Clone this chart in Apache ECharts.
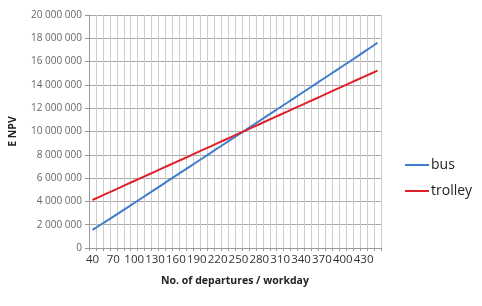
<!DOCTYPE html>
<html>
<head>
<meta charset="utf-8">
<script src="https://cdn.jsdelivr.net/npm/echarts@6/dist/echarts.min.js"></script>
<style>html,body{margin:0;padding:0;background:#fff;}#c{width:482px;height:306px;}</style>
</head>
<body>
<div id="c"></div>
<script>
var categories = ['40','50','60','70','80','90','100','110','120','130','140','150','160','170','180','190','200','210','220','230','240','250','260','270','280','290','300','310','320','330','340','350','360','370','380','390','400','410','420','430','440','450'];
var busValues = [1550000,1930000,2310000,2690000,3080000,3470000,3860000,4250000,4640000,5030000,5420000,5820000,6210000,6600000,6990000,7380000,7770000,8160000,8560000,8950000,9340000,9730000,10120000,10510000,10900000,11300000,11690000,12080000,12470000,12870000,13260000,13650000,14040000,14440000,14830000,15220000,15620000,16010000,16410000,16810000,17210000,17620000];
var trolleyValues = [4120000,4390000,4660000,4930000,5200000,5480000,5750000,6020000,6290000,6560000,6830000,7100000,7370000,7640000,7910000,8190000,8460000,8730000,9000000,9270000,9540000,9810000,10080000,10350000,10620000,10900000,11170000,11440000,11710000,11980000,12250000,12520000,12790000,13060000,13330000,13610000,13880000,14150000,14420000,14690000,14960000,15230000];
var yTicks = {min: 0, max: 20000000, interval: 2000000};
var seriesNames = ['bus', 'trolley'];
var xName = 'No. of departures / workday';
var yName = 'E NPV';

function fmt(v) {
  return String(v).replace(/\B(?=(\d{3})+(?!\d))/g, ' ');
}

var chart = echarts.init(document.getElementById('c'), null, {renderer: 'canvas'});
chart.setOption({
  animation: false,
  backgroundColor: '#fff',
  textStyle: {fontFamily: 'Open Sans, sans-serif'},
  grid: {left: 88, right: 101, top: 15, bottom: 58},
  legend: {
    orient: 'vertical',
    left: 400,
    top: 153,
    itemWidth: 24,
    itemHeight: 2,
    itemGap: 12,
    icon: 'rect',
    textStyle: {fontSize: 14, color: '#222', fontFamily: 'Open Sans, sans-serif', padding: [0,0,0,-3]},
    data: seriesNames
  },
  xAxis: {
    type: 'category',
    data: categories,
    boundaryGap: true,
    name: xName,
    nameLocation: 'middle',
    nameGap: 28,
    nameTextStyle: {fontSize: 10.5, fontWeight: 'bold', color: '#222'},
    axisLine: {lineStyle: {color: '#9a9a9a'}},
    axisTick: {show: true, interval: 0, length: 3, lineStyle: {color: '#9a9a9a'}},
    axisLabel: {interval: 2, fontSize: 11.5, color: '#333', margin: 6},
    splitLine: {show: true, interval: 0, lineStyle: {color: '#cccccc', width: 1}}
  },
  yAxis: {
    type: 'value',
    min: yTicks.min,
    max: yTicks.max,
    interval: yTicks.interval,
    name: yName,
    nameLocation: 'middle',
    nameGap: 70,
    nameTextStyle: {fontSize: 10.5, fontWeight: 'bold', color: '#222'},
    axisLine: {show: true, lineStyle: {color: '#9a9a9a'}},
    axisTick: {show: true, length: 4, lineStyle: {color: '#9a9a9a'}},
    axisLabel: {fontSize: 10, color: '#666', margin: 7, formatter: fmt},
    splitLine: {show: true, lineStyle: {color: '#a8a8a8', width: 1}}
  },
  series: [
    {name: seriesNames[0], type: 'line', data: busValues, symbol: 'none', lineStyle: {color: '#3f7ccc', width: 2}, itemStyle: {color: '#3f7ccc'}},
    {name: seriesNames[1], type: 'line', data: trolleyValues, symbol: 'none', lineStyle: {color: '#e0212a', width: 2}, itemStyle: {color: '#e0212a'}}
  ]
});
</script>
</body>
</html>
